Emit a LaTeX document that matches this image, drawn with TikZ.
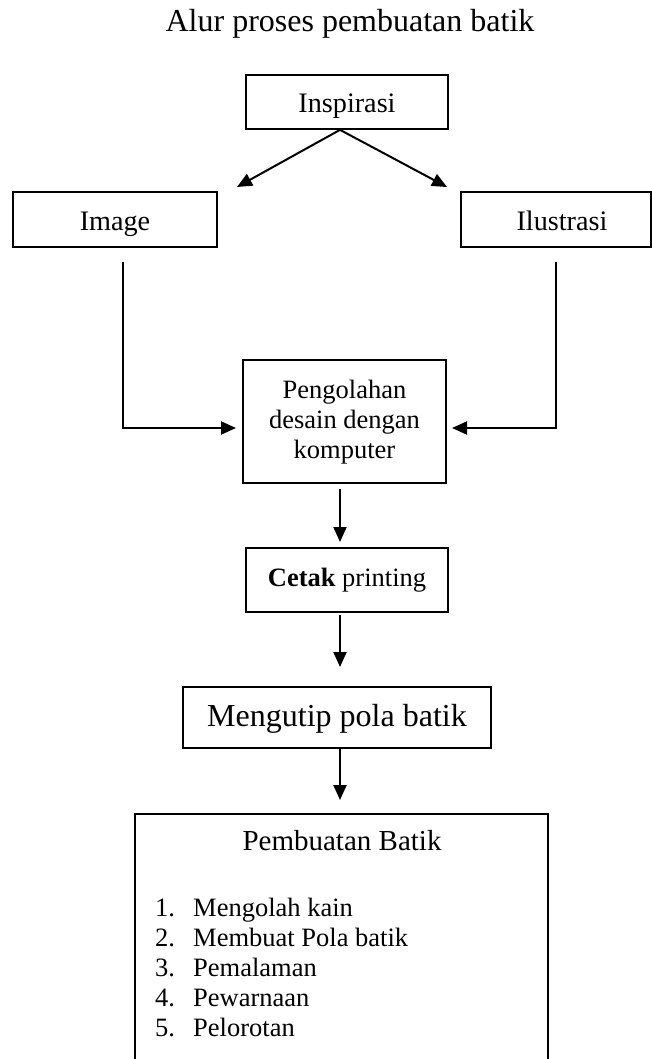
\documentclass[tikz,border=0pt]{standalone}
\usepackage{fontspec}
\setmainfont{Liberation Serif}
\usetikzlibrary{arrows.meta}
\begin{document}
\begin{tikzpicture}[x=1pt,y=-1pt,
  box/.style={draw,line width=1.7pt,inner sep=0pt,align=center},
  arr/.style={line width=2pt,-{Triangle[length=15pt,width=13pt]}},
  fbig/.style={font=\fontsize{32}{38}\selectfont},
  fmid/.style={font=\fontsize{28.2}{32}\selectfont},
  fsmall/.style={font=\fontsize{26.5}{30}\selectfont}]
\useasboundingbox (0,0) rectangle (652,1059);

\node[anchor=base,fbig] (title) at (350,32) {Alur proses pembuatan batik};

\node[box,fmid,minimum width=202pt,minimum height=54pt,text height=22pt,text depth=0pt] (insp) at (347,102) {Inspirasi};
\node[box,fmid,minimum width=204pt,minimum height=55pt,text height=22pt,text depth=0pt] (img) at (115,219.5) {Image};
\node[box,fmid,minimum width=190pt,minimum height=55pt,text height=21pt,text depth=0pt] (ilu) at (556,219.5) {\hspace{12pt}Ilustrasi};

\node[box,fsmall,minimum width=203pt,minimum height=123pt,text depth=4pt] (pg) at (344.5,421.5) {Pengolahan\\desain dengan\\komputer};
\node[box,fsmall,minimum width=202pt,minimum height=64pt,text height=13pt,text depth=0pt] (ct) at (347,580) {\textbf{Cetak} printing};
\node[box,fbig,minimum width=308pt,minimum height=61pt,text height=18.4pt,text depth=0pt] (mg) at (337,717.5) {Mengutip pola batik};

\node[draw,line width=1.7pt,minimum width=413pt,minimum height=270pt,anchor=north] (pb) at (341.5,813) {};
\node[anchor=base,font=\fontsize{29}{34}\selectfont] (pbh) at (342,850) {Pembuatan Batik};
\foreach \t [count=\k] in {Mengolah kain,Membuat Pola batik,Pemalaman,Pewarnaan,Pelorotan}{
  \node[anchor=base west,fsmall,inner sep=0pt] (n\k) at (155,{916+30*(\k-1)}) {\k.};
  \node[anchor=base west,fsmall,inner sep=0pt] (t\k) at (193,{916+30*(\k-1)}) {\t};
}

% connectors
\coordinate (apex) at ([xshift=-7pt]insp.south);
\coordinate (tipL) at (237,187);
\coordinate (tipR) at (447,187);
\draw[arr] (apex) -- (tipL);
\draw[arr] (apex) -- (tipR);

\coordinate (imgS) at (123,262);
\coordinate (pgL) at (236,428);
\draw[arr] (imgS) |- (pgL);
\coordinate (iluS) at (556,262);
\coordinate (pgR) at (452,428);
\draw[arr] (iluS) |- (pgR);

\coordinate (a1s) at (340,489);
\coordinate (a1e) at (340,542);
\draw[arr] (a1s) -- (a1e);
\coordinate (a2s) at (340,615);
\coordinate (a2e) at (340,667);
\draw[arr] (a2s) -- (a2e);
\coordinate (a3s) at (340,748);
\coordinate (a3e) at (340,800);
\draw[arr] (a3s) -- (a3e);
\end{tikzpicture}
\end{document}
